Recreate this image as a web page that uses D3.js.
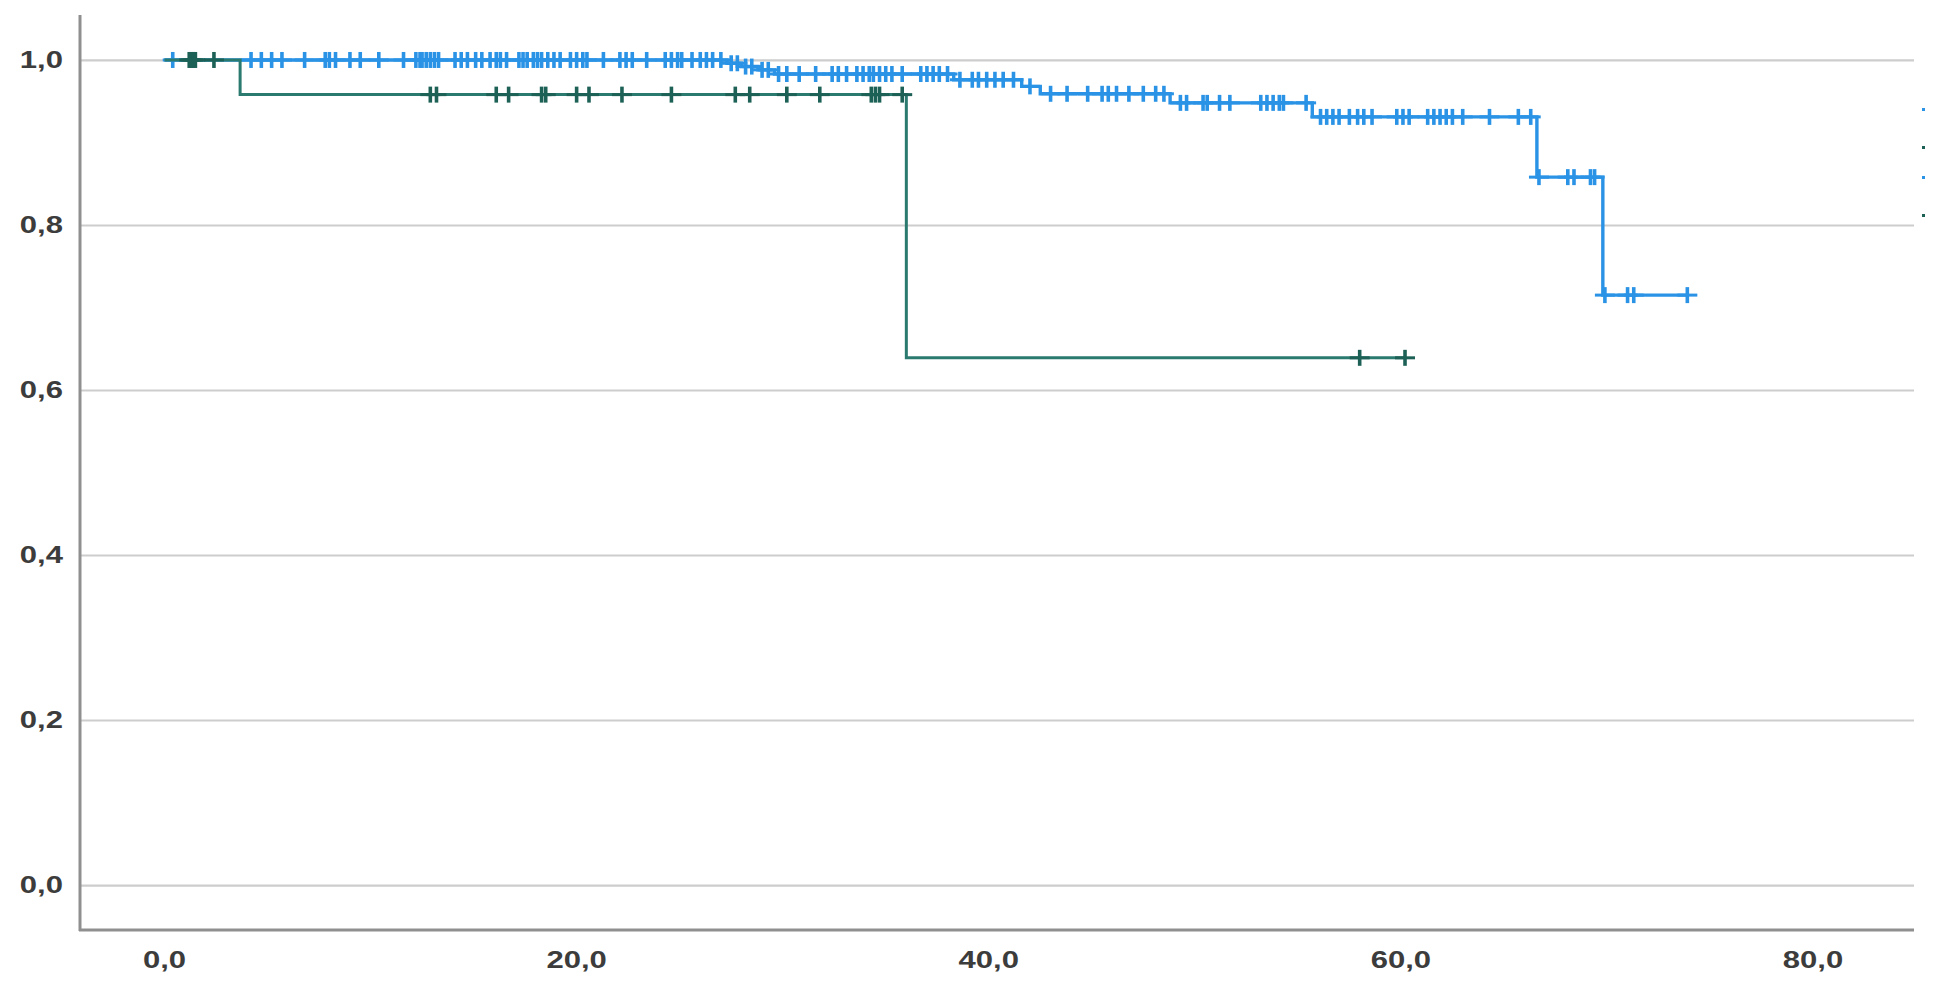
<!DOCTYPE html>
<html>
<head>
<meta charset="utf-8">
<script src="https://cdn.jsdelivr.net/npm/d3@7"></script>
<style>
  body { margin: 0; background: #fff; }
  svg { display: block; }
  .tick-label { font-family: "Liberation Sans", Arial, sans-serif; font-size: 23px; font-weight: bold; fill: #3c3c3c; }
</style>
</head>
<body>
<svg id="chart" width="1934" height="990"></svg>
<script>
// survival steps: [time, cumulative survival after event]
var blueSteps = [[0, 1], [27.3, 0.996], [28.0, 0.992], [28.8, 0.988], [29.6, 0.983],
  [38.3, 0.976], [41.6, 0.968], [42.5, 0.959], [48.8, 0.948], [55.7, 0.931],
  [66.6, 0.858], [69.8, 0.715]];
var blueEnd = 73.9;
var blueCensored = [0.4, 4.2, 4.7, 5.2, 5.7, 6.8, 7.8, 8.0, 8.3, 9.0, 9.5, 10.4, 11.6,
  12.2, 12.4, 12.5, 12.7, 12.9, 13.1, 13.3, 14.1, 14.4, 14.7, 15.1, 15.4, 15.8, 16.1,
  16.3, 16.6, 17.2, 17.4, 17.6, 17.9, 18.1, 18.3, 18.6, 18.9, 19.2, 19.7, 20.0, 20.3,
  20.5, 21.3, 22.1, 22.4, 22.7, 23.4, 24.3, 24.6, 24.9, 25.1, 25.6, 26.0, 26.3, 26.6,
  27.0, 27.5, 27.8, 28.2, 28.5, 29.0, 29.3, 29.8, 30.2, 30.8, 31.6, 32.4, 32.7, 33.1,
  33.6, 33.9, 34.2, 34.4, 34.7, 35.0, 35.3, 35.8, 36.7, 37.0, 37.3, 37.6, 38.0, 38.6,
  39.2, 39.5, 39.9, 40.3, 40.7, 41.2, 42.0, 43.0, 43.8, 44.8, 45.5, 45.8, 46.2, 46.8,
  47.5, 48.1, 48.5, 49.3, 49.6, 50.4, 50.6, 51.2, 51.7, 53.2, 53.5, 53.8, 54.1, 54.3,
  55.4, 56.1, 56.4, 56.7, 57.0, 57.5, 57.9, 58.2, 58.6, 59.8, 60.1, 60.4, 61.3, 61.6,
  61.9, 62.2, 62.5, 63.0, 64.3, 65.7, 66.3, 66.7, 68.1, 68.4, 69.2, 69.4, 69.9, 71.0,
  71.3, 73.9];

var tealSteps = [[0, 1], [3.67, 0.958], [36.0, 0.639]];
var tealEnd = 60.2;
var tealCensored = [1.2, 1.3, 1.4, 1.5, 2.4, 12.9, 13.2, 16.1, 16.7, 18.3, 18.5, 20.0,
  20.6, 22.2, 24.6, 27.7, 28.4, 30.2, 31.8, 34.3, 34.5, 34.7, 35.8, 58.0, 60.2];

var yTicks = [0, 0.2, 0.4, 0.6, 0.8, 1.0];
var xTicks = [0, 20, 40, 60, 80];
// clipped legend symbols at the right edge
var legendColors = ["#2a93e6", "#1d6156", "#2a93e6", "#1d6156"];

var blueColor = "#2a93e6";
var tealLine = "#2b7a70";
var tealMark = "#1d6156";

var svg = d3.select("#chart");
var x = d3.scaleLinear().domain([-4.1, 84.9]).range([80, 1914]);
var y = d3.scaleLinear().domain([-0.0545, 1.0545]).range([930, 15]);
var fmt = function(d) { return d3.format(".1f")(d).replace(".", ","); };

// gridlines
svg.append("g")
  .attr("transform", "translate(80,0)")
  .call(d3.axisLeft(y).tickValues(yTicks).tickSize(-1834).tickFormat(""))
  .call(function(g) {
    g.select(".domain").remove();
    g.selectAll(".tick line").attr("stroke", "#cdcdcd").attr("stroke-width", 2.2);
  });

// y labels
svg.append("g").selectAll("text")
  .data(yTicks).enter().append("text")
  .attr("class", "tick-label")
  .attr("text-anchor", "end")
  .attr("transform", function(d) { return "translate(63," + (y(d) + 8) + ") scale(1.35,1)"; })
  .text(fmt);

// x labels
svg.append("g").selectAll("text")
  .data(xTicks).enter().append("text")
  .attr("class", "tick-label")
  .attr("text-anchor", "middle")
  .attr("transform", function(d) { return "translate(" + x(d) + ",968) scale(1.35,1)"; })
  .text(fmt);

// axis lines
svg.append("line").attr("x1", 80).attr("x2", 80).attr("y1", 15).attr("y2", 931)
  .attr("stroke", "#8f8f8f").attr("stroke-width", 3);
svg.append("line").attr("x1", 79).attr("x2", 1914).attr("y1", 930).attr("y2", 930)
  .attr("stroke", "#8f8f8f").attr("stroke-width", 3);

function survAt(steps, t) {
  var s = 1;
  steps.forEach(function(p) { if (p[0] <= t) s = p[1]; });
  return s;
}

function drawCurve(steps, end, censored, lineColor, markColor, width) {
  var pts = steps.concat([[end, steps[steps.length - 1][1]]]);
  var line = d3.line()
    .x(function(d) { return x(d[0]); })
    .y(function(d) { return y(d[1]); })
    .curve(d3.curveStepAfter);
  var g = svg.append("g");
  g.append("path").datum(pts)
    .attr("d", line)
    .attr("fill", "none")
    .attr("stroke", lineColor)
    .attr("stroke-width", width);
  var marks = g.selectAll("g.mark").data(censored).enter().append("g")
    .attr("class", "mark")
    .attr("transform", function(t) { return "translate(" + x(t) + "," + y(survAt(steps, t)) + ")"; });
  marks.append("line").attr("x1", 0).attr("x2", 0).attr("y1", -8).attr("y2", 8)
    .attr("stroke", markColor).attr("stroke-width", 3.6);
  marks.append("line").attr("x1", -10).attr("x2", 10).attr("y1", 0).attr("y2", 0)
    .attr("stroke", markColor).attr("stroke-width", 3);
}

drawCurve(blueSteps, blueEnd, blueCensored, blueColor, blueColor, 3.4);
drawCurve(tealSteps, tealEnd, tealCensored, tealLine, tealMark, 3);

svg.append("g").selectAll("rect")
  .data(legendColors).enter().append("rect")
  .attr("x", 1922)
  .attr("y", function(d, i) { return [108, 146, 176, 214][i]; })
  .attr("width", 3).attr("height", 3)
  .attr("fill", function(d) { return d; });
</script>
</body>
</html>
